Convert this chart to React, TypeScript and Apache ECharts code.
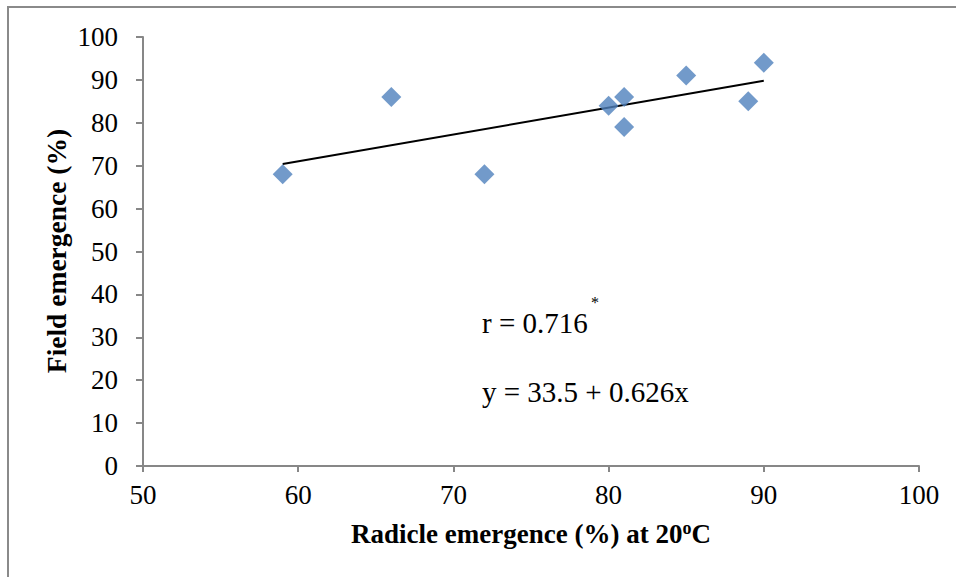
import React, { useEffect, useRef } from "react";
import * as echarts from "echarts";

const radicleEmergence = [59, 66, 72, 80, 81, 81, 85, 89, 90];
const fieldEmergence = [68, 86, 68, 84, 86, 79, 91, 85, 94];
const trendX = [59, 90];
const trendY = [70.4, 89.8];
const rText = "r = 0.716";
const rMark = "*";
const eqText = "y = 33.5 + 0.626x";
const xTitle = "Radicle emergence (%) at 20";
const yTitle = "Field emergence (%)";

const FONT = "'Liberation Serif', 'Times New Roman', serif";

export default function App() {
  const ref = useRef<HTMLDivElement>(null);
  useEffect(() => {
    document.body.style.margin = "0";
    const chart = echarts.init(ref.current!, null, { renderer: "svg" });
    const axisGray = "#878787";
    chart.setOption({
      animation: false,
      backgroundColor: "#ffffff",
      grid: { left: 143, top: 37, width: 776, height: 429, containLabel: false },
      xAxis: {
        type: "value",
        min: 50,
        max: 100,
        interval: 10,
        axisLine: { show: true, lineStyle: { color: axisGray, width: 2 } },
        axisTick: { show: true, inside: false, length: 6, lineStyle: { color: axisGray, width: 2 } },
        splitLine: { show: false },
        axisLabel: { color: "#000", fontFamily: FONT, fontSize: 27, margin: 15 },
      },
      yAxis: {
        type: "value",
        min: 0,
        max: 100,
        interval: 10,
        axisLine: { show: true, lineStyle: { color: axisGray, width: 2 } },
        axisTick: { show: true, inside: false, length: 7, lineStyle: { color: axisGray, width: 2 } },
        splitLine: { show: false },
        axisLabel: { color: "#000", fontFamily: FONT, fontSize: 27, margin: 25 },
      },
      series: [
        {
          type: "line",
          data: trendX.map((x, i) => [x, trendY[i]]),
          showSymbol: false,
          symbol: "none",
          lineStyle: { color: "#000", width: 2 },
          z: 2,
        },
        {
          type: "scatter",
          data: radicleEmergence.map((x, i) => [x, fieldEmergence[i]]),
          symbol: "diamond",
          symbolSize: 20,
          itemStyle: { color: "#4F81BD" },
          z: 3,
        },
      ],
      graphic: [
        {
          type: "rect",
          shape: { x: 8, y: 7, width: 1200, height: 1200 },
          style: { fill: "none", stroke: "#8a8a8a", lineWidth: 2 },
          silent: true,
        },
        {
          type: "text",
          x: 482,
          y: 323,
          style: {
            text: rText,
            font: `29px ${FONT}`,
            fill: "#000",
            verticalAlign: "middle",
            align: "left",
          },
        },
        {
          type: "text",
          x: 595,
          y: 302,
          style: {
            text: rMark,
            font: `16px ${FONT}`,
            fill: "#000",
            verticalAlign: "middle",
            align: "center",
          },
        },
        {
          type: "text",
          x: 482,
          y: 392,
          style: {
            text: eqText,
            font: `29px ${FONT}`,
            fill: "#000",
            verticalAlign: "middle",
            align: "left",
          },
        },
        {
          type: "text",
          x: 531,
          y: 534,
          style: {
            text: "{b|" + xTitle + "}{s|o}{b|C}",
            fill: "#000",
            align: "center",
            verticalAlign: "middle",
            rich: {
              b: { fontFamily: FONT, fontSize: 27, fontWeight: "bold", lineHeight: 30 },
              s: { fontFamily: FONT, fontSize: 18, fontWeight: "bold", lineHeight: 30, verticalAlign: "top", padding: [0, 0, 10, 0] },
            },
          },
        },
        {
          type: "text",
          x: 56,
          y: 251,
          rotation: Math.PI / 2,
          style: {
            text: yTitle,
            font: `bold 27.5px ${FONT}`,
            fill: "#000",
            align: "center",
            verticalAlign: "middle",
          },
        },
      ],
    });
    return () => chart.dispose();
  }, []);
  return <div ref={ref} style={{ position: "absolute", left: 0, top: 0, width: 956, height: 577 }} />;
}
